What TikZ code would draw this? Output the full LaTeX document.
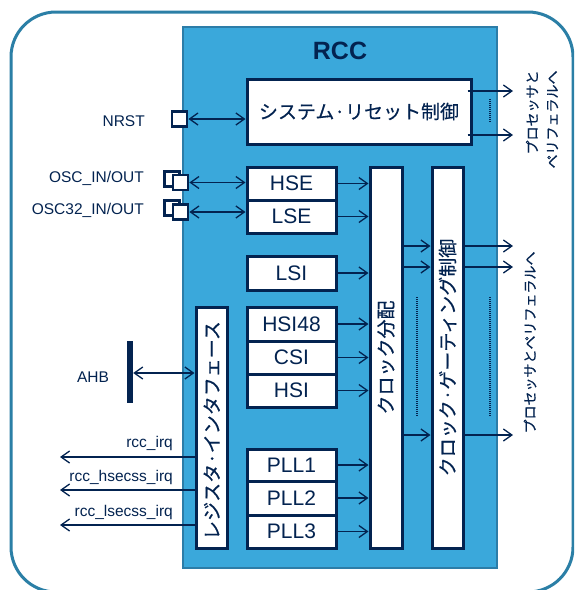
\documentclass[tikz,border=0pt]{standalone}
\usepackage{fontspec}
\setmainfont{Liberation Sans}
\newfontfamily\jpf[FakeBold=0.4]{Noto Sans CJK JP}
\usetikzlibrary{arrows.meta}
\definecolor{navy}{RGB}{3,35,80}
\definecolor{rccblue}{RGB}{58,168,219}
\definecolor{rccedge}{RGB}{44,125,168}
\definecolor{outeredge}{RGB}{43,127,166}
\tikzset{
  box/.style={draw=navy, line width=3pt, fill=white, inner sep=0pt, text=navy,
    font=\fontsize{21}{25}\selectfont},
  pinbox/.style={draw=navy, line width=2.8pt, fill=white, minimum size=15pt, inner sep=0pt},
  lbl/.style={text=navy, font=\fontsize{15.5}{18}\selectfont, inner sep=0pt},
  jp/.style={text=navy, font=\jpf\fontsize{19}{22}\selectfont, inner sep=0pt},
  jpsmall/.style={text=navy, font=\jpf\fontsize{14}{20}\selectfont, inner sep=0pt},
  conn/.style={draw=navy, line width=1.3pt},
  arr/.style={conn, -{Straight Barb[length=8.5pt,width=12pt]}},
  darr/.style={conn, {Straight Barb[length=8.5pt,width=12pt]}-{Straight Barb[length=8.5pt,width=12pt]}},
  dotline/.style={draw=navy, line width=1.2pt, dash pattern=on 1pt off 1pt},
}
\begin{document}
\begin{tikzpicture}[x=1pt,y=-1pt]
\useasboundingbox (0,0) rectangle (574,590);
\clip (0,0) rectangle (574,590);
\fill[white] (0,0) rectangle (574,590);
% outer frame
\draw[outeredge, line width=3pt, rounded corners=45pt] (11,12) rectangle (573,592);
% RCC block
\node[draw=rccedge, fill=rccblue, line width=2pt, minimum width=314pt, minimum height=541pt, inner sep=0pt] (rcc) at (340,297.5) {};
\node[text=navy, font=\bfseries\fontsize{25}{30}\selectfont, inner sep=0pt] (title) at (340,51) {RCC};

% boxes
\node[box, minimum width=224pt, minimum height=65pt, font=\jpf\fontsize{19}{22}\selectfont] (reset) at (359,111.5) {システム·リセット制御};
\node[box, minimum width=89pt, minimum height=33pt] (hse) at (291.5,183.5) {HSE};
\node[box, minimum width=89pt, minimum height=33pt] (lse) at (291.5,216.5) {LSE};
\node[box, minimum width=89pt, minimum height=34pt] (lsi) at (291.5,273) {LSI};
\node[box, minimum width=89pt, minimum height=34pt] (hsi48) at (291.5,324) {HSI48};
\node[box, minimum width=89pt, minimum height=33pt] (csi) at (291.5,357.5) {CSI};
\node[box, minimum width=89pt, minimum height=33pt] (hsi) at (291.5,390.5) {HSI};
\node[box, minimum width=89pt, minimum height=32pt] (pll1) at (291.5,465) {PLL1};
\node[box, minimum width=89pt, minimum height=34pt] (pll2) at (291.5,498) {PLL2};
\node[box, minimum width=89pt, minimum height=33pt] (pll3) at (291.5,531.5) {PLL3};
\node[box, minimum width=32pt, minimum height=381pt] (dist) at (386,357.5) {};
\node[box, minimum width=31pt, minimum height=381pt] (gating) at (447.5,357.5) {};
\node[box, minimum width=31.5pt, minimum height=241pt] (reg) at (211.75,427.5) {};
\node[jp, rotate=90] (distt) at (dist.center) {クロック分配};
\node[jp, rotate=90] (gatingt) at (gating.center) {クロック·ゲーティング制御};
\node[jp, rotate=90] (regt) at ([yshift=-3pt]reg.center) {レジスタ·インタフェース};

% pins
\node[pinbox] (nrst) at (179.5,119) {};
\node[pinbox] (oscb) at (172,179) {};
\node[pinbox] (osc) at (180.5,182.5) {};
\node[pinbox] (osc32b) at (172,208) {};
\node[pinbox] (osc32) at (180.5,212) {};
\node[fill=navy, minimum width=6pt, minimum height=62pt, inner sep=0pt] (ahbbar) at (130,372) {};

% labels
\node[lbl, anchor=base east] (nrstl) at (145,126) {NRST};
\node[lbl, anchor=base east] (oscl) at (144,182.3) {OSC\_IN/OUT};
\node[lbl, anchor=base east] (osc32l) at (144,214) {OSC32\_IN/OUT};
\node[lbl, anchor=base] (ahbl) at (93,382) {AHB};
\node[lbl, anchor=base east] (irq1l) at (173,447.5) {rcc\_irq};
\node[lbl, anchor=base east] (irq2l) at (173,481.7) {rcc\_hsecss\_irq};
\node[lbl, anchor=base east] (irq3l) at (173,516) {rcc\_lsecss\_irq};
\node[jpsmall, rotate=90, align=right] (outt1) at (542,119.5) {プロセッサと\\ペリフェラルへ};
\node[jpsmall, rotate=90] (outt2) at (530,342.5) {プロセッサとペリフェラルへ};

% connectors
\draw[darr] (nrst.east) -- (nrst.east -| reset.west);
\draw[darr] (osc.east) -- (osc.east -| hse.west);
\draw[darr] (osc32.east) -- (osc32.east -| lse.west);
\foreach \n in {hse,lse,lsi,hsi48,csi,hsi,pll1,pll2,pll3}
  \draw[arr] (\n.east) -- (\n.east -| dist.west);
\coordinate (ahby) at (0,373);
\draw[darr] (ahbbar.east |- ahby) -- (reg.west |- ahby);
\coordinate (irq1) at (60,457);
\coordinate (irq2) at (60,490);
\coordinate (irq3) at (60,525);
\foreach \c in {irq1,irq2,irq3}
  \draw[arr] (reg.west |- \c) -- (\c);
\coordinate (ro1) at (513,91);
\coordinate (ro2) at (513,135);
\foreach \c in {ro1,ro2}
  \draw[arr] ([xshift=-5pt]reset.east |- \c) -- (\c);
\coordinate (g1) at (513,246);
\coordinate (g2) at (513,267);
\coordinate (g3) at (513,435);
\foreach \c in {g1,g2,g3}{
  \draw[arr] (dist.east |- \c) -- (gating.west |- \c);
  \draw[arr] ([xshift=-2pt]gating.east |- \c) -- (\c);
}
% dotted continuation marks
\draw[dotline] (490,99) -- (490,122);
\draw[dotline] (417,297) -- (417,416);
\draw[dotline] (490,297) -- (490,416);
\end{tikzpicture}
\end{document}
